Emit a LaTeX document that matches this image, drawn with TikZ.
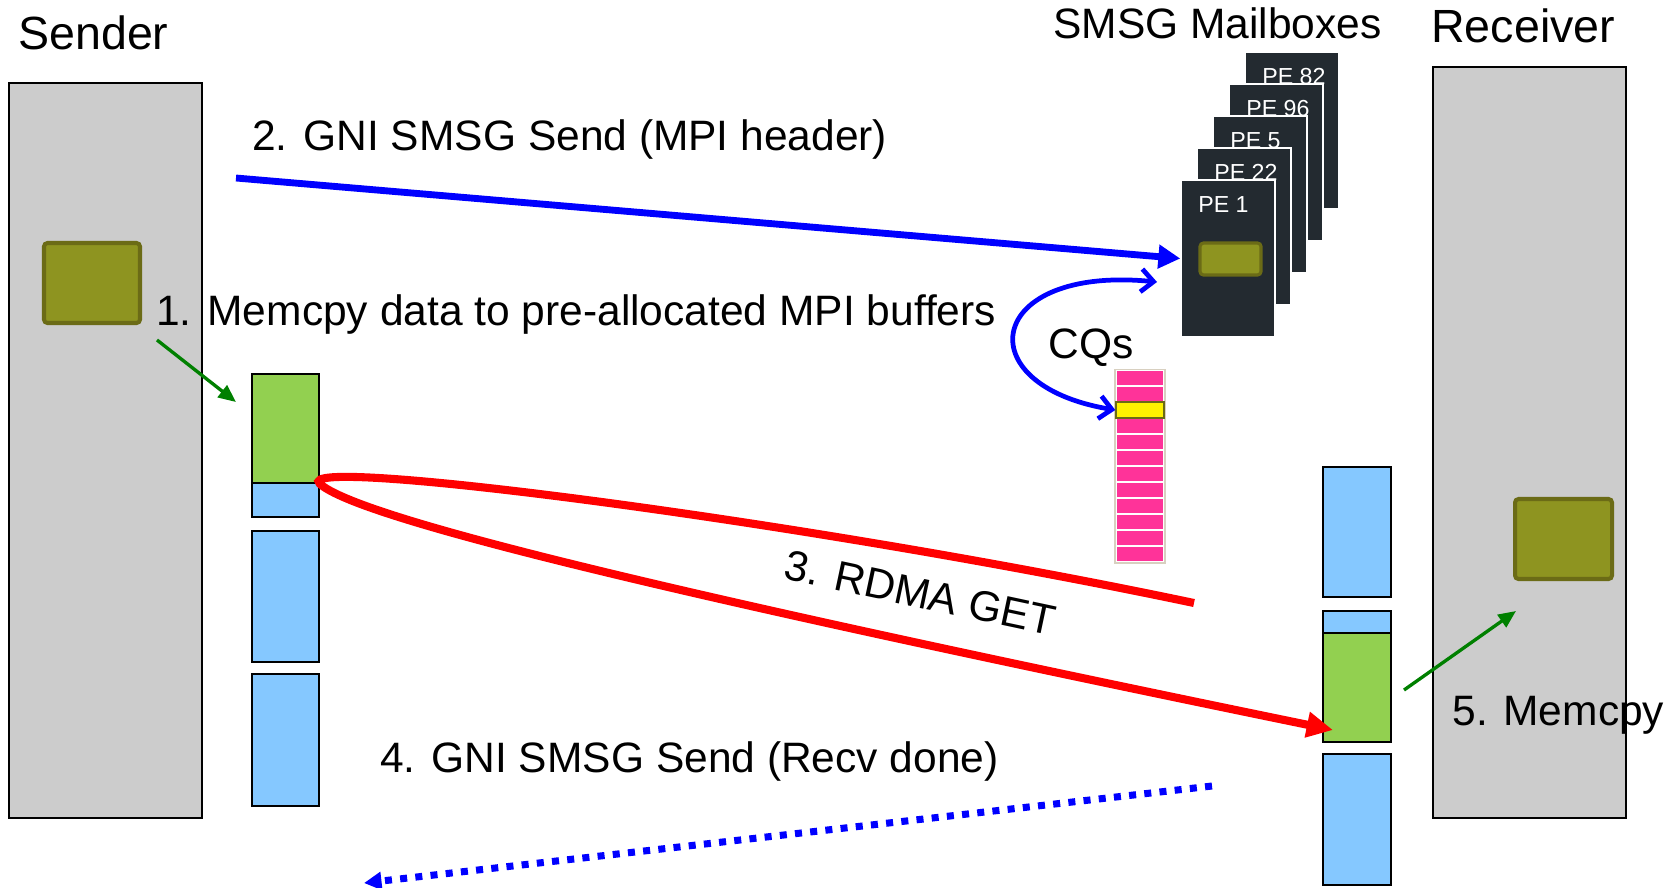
\documentclass[tikz,border=0pt]{standalone}
\usepackage{fontspec}
\setmainfont{Liberation Sans}
\usetikzlibrary{arrows.meta, fit}
\definecolor{hostgray}{HTML}{CCCCCC}
\definecolor{dataolive}{HTML}{8E9420}
\definecolor{dataedge}{HTML}{6B6B16}
\definecolor{bufblue}{HTML}{85C8FF}
\definecolor{bufgreen}{HTML}{92D050}
\definecolor{pagedark}{HTML}{232A30}
\definecolor{cqpink}{HTML}{FF3399}
\definecolor{cqedge}{HTML}{D8D0C0}
\definecolor{copygreen}{HTML}{008000}

\tikzset{
  host/.style={draw=black, fill=hostgray, line width=0.8pt, inner sep=0pt},
  buf/.style={draw=black, fill=bufblue, line width=0.9pt, inner sep=0pt},
  bufdata/.style={buf, fill=bufgreen},
  payload/.style={draw=dataedge, fill=dataolive, line width=2.3pt, rounded corners=2pt, inner sep=0pt},
  mailbox/.style={draw=white, fill=pagedark, line width=0.8pt, inner sep=0pt},
  cqcell/.style={draw=white, fill=cqpink, line width=0.6pt, inner sep=0pt},
  cqhit/.style={draw=dataedge, fill=yellow, line width=0.8pt, inner sep=0pt},
  big/.style={font=\fontsize{26.5}{30}\selectfont, inner sep=0pt},
  lbl/.style={font=\fontsize{24.2}{28}\selectfont, inner sep=0pt},
  pelbl/.style={font=\fontsize{13.2}{15}\selectfont, text=white, inner sep=0pt, anchor=base west},
  copyarrow/.style={draw=copygreen, line width=1.9pt, -{Triangle[length=10pt,width=8.5pt]}},
  smsgarrow/.style={draw=blue, line width=3.9pt, -{Triangle[length=12.5pt,width=13pt]}},
  cqarrow/.style={draw=blue, line width=2.7pt, {Straight Barb[length=7pt,width=13pt]}-{Straight Barb[length=7pt,width=13pt]}},
  rdmaarrow/.style={draw=red, line width=4.6pt, -{Triangle[length=15pt,width=14pt]}},
  donearrow/.style={draw=blue, line width=4pt, dash pattern=on 4pt off 4.7pt, -{Triangle[length=10pt,width=10pt]}},
}

\begin{document}
\begin{tikzpicture}[x=0.02cm,y=-0.02cm]
\useasboundingbox[fill=white] (0,0) rectangle (1675,887);

% hosts
\node[host, fit={(9,83) (202,818)}] (sender) {};
\node[host, fit={(1433,67) (1626,818)}] (receiver) {};
\node[payload, fit={(44,243) (140,323)}] (sdata) {};
\node[payload, fit={(1515,499) (1612,579)}] (rdata) {};

% MPI buffers
\node[bufdata, fit={(252,374) (319,483)}] (lg) {};
\node[buf, fit={(252,483) (319,517)}] (lb0) {};
\node[buf, fit={(252,531) (319,662)}] (lb1) {};
\node[buf, fit={(252,674) (319,806)}] (lb2) {};

\node[buf, fit={(1323,467) (1391,597)}] (rb0) {};
\node[buf, fit={(1323,611) (1391,633)}] (rb1) {};
\node[bufdata, fit={(1323,633) (1391,742)}] (rg) {};
\node[buf, fit={(1323,754) (1391,885)}] (rb2) {};

% mailboxes
\foreach \pe [count=\i from 0] in {82,96,5,22,1}{
  \node[mailbox, fit={({1245-16*\i},{52+32*\i}) ({1339-16*\i},{209+32*\i})}] (pe\pe) {};
  \node[pelbl] (pelbl\pe) at ({1262-16*\i},{84+32*\i}) {PE \pe};
}
\node[payload, line width=1.8pt, fit={(1200,243) (1261,275)}] (mdata) {};

% completion queue
\node[draw=cqedge, fill=cqedge, line width=0.6pt, inner sep=0pt, fit={(1115,370) (1165,563)}] (cq) {};
\foreach \i in {0,...,11}
  \node[cqcell, fit={(1116.5,{370.5+16*\i}) (1163.5,{385.5+16*\i})}] (cq\i) {};
\node[cqhit, fit=(cq2)] (cqmark) {};

% labels
\node[big, anchor=base west] (sendlbl) at (18,49) {Sender};
\node[big, anchor=base west] (recvlbl) at (1431,42) {Receiver};
\node[lbl, anchor=base west] (mbxlbl) at (1053,38) {SMSG Mailboxes};
\node[lbl, anchor=base west] (step2) at (252,150) {2. GNI SMSG Send (MPI header)};
\node[lbl, anchor=base west] (step1) at (156,325) {1. Memcpy data to pre-allocated MPI buffers};
\node[lbl, anchor=base west] (cqlbl) at (1048,358) {CQs};
\node[lbl, rotate=-12] (step3) at (920,593) {3. RDMA GET};
\node[lbl, anchor=base west] (step4) at (380,772) {4. GNI SMSG Send (Recv done)};
\node[lbl, anchor=base west] (step5) at (1452,725) {5. Memcpy};

% arrows
\coordinate (m1s) at (157,340);
\coordinate (m1e) at (236,402);
\draw[copyarrow] (m1s) -- (m1e);

\coordinate (s2) at (236,178);
\draw[smsgarrow] (s2) -- (pe1.west);

\coordinate (cqtop) at (1157,282);
\draw[cqarrow] (cqtop) .. controls (985,265) and (965,385) .. (cqmark.west);

\coordinate (rend) at (1194,603);
\coordinate (rtip) at (1333,730);
\draw[rdmaarrow] (rend) .. controls (800,520) and (290,455) .. (lg.south east)
  .. controls (360,520) and (700,600) .. (rtip);

\coordinate (a4s) at (1212,786);
\coordinate (a4e) at (364,883);
\draw[donearrow] (a4s) -- (a4e);

\coordinate (m5s) at (1404,690);
\coordinate (m5e) at (1516,611);
\draw[copyarrow] (m5s) -- (m5e);
\end{tikzpicture}
\end{document}
